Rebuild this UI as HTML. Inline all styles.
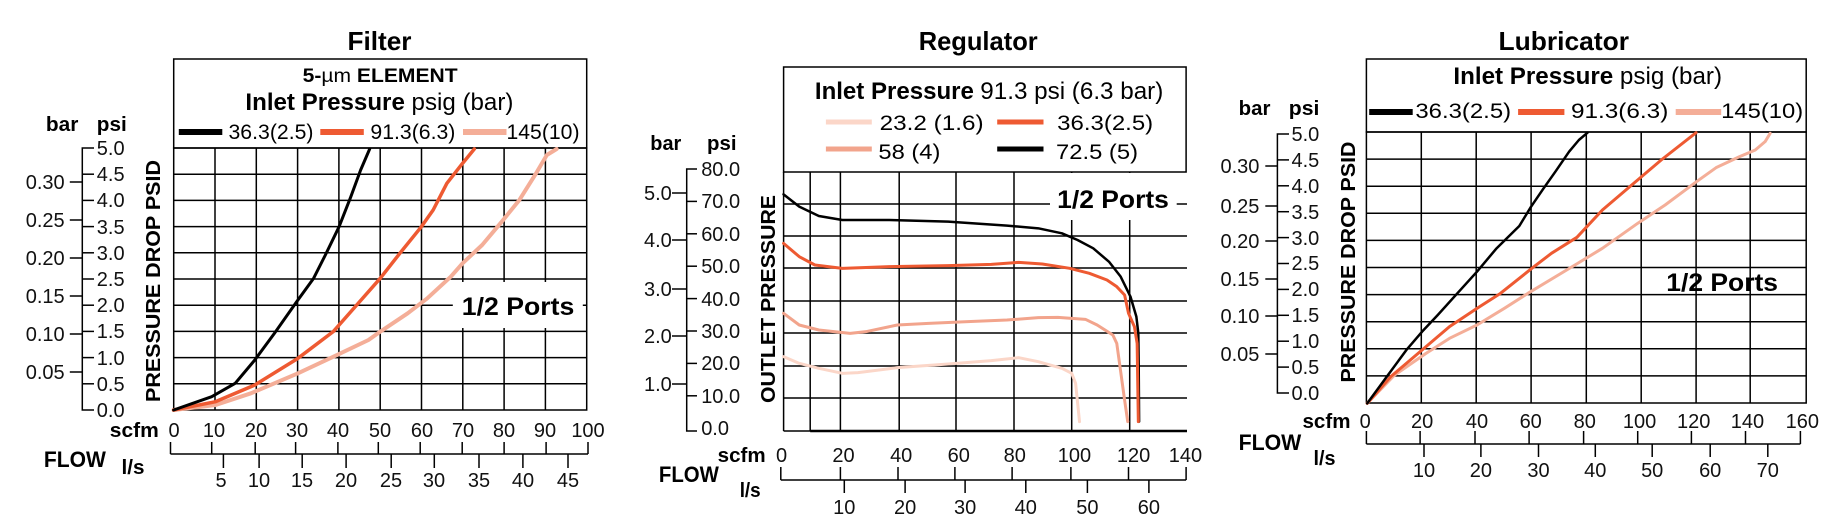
<!DOCTYPE html>
<html><head><meta charset="utf-8"><style>
html,body{margin:0;padding:0;background:#fff;}
svg{display:block;font-family:"Liberation Sans",Arial,sans-serif;}
.g{stroke:#000;stroke-width:1.5;fill:none;}
.t{font-size:20px;fill:#111;}
.b{font-weight:bold;fill:#000;}
.c{fill:none;stroke-linejoin:round;stroke-linecap:round;vector-effect:non-scaling-stroke;}
</style></head><body>
<svg width="1845" height="521" viewBox="0 0 1845 521" xmlns="http://www.w3.org/2000/svg">

<!-- ================= FILTER ================= -->
<text class="b" x="379.5" y="50" font-size="26" text-anchor="middle" textLength="64" lengthAdjust="spacingAndGlyphs">Filter</text>
<rect class="g" x="173.7" y="59" width="413" height="89"/>
<text class="b" x="302.6" y="82" font-size="19" textLength="155" lengthAdjust="spacingAndGlyphs">5-<tspan font-weight="normal">µm</tspan> ELEMENT</text>
<text x="245.4" y="110" font-size="24" textLength="268" lengthAdjust="spacingAndGlyphs"><tspan font-weight="bold">Inlet Pressure</tspan> psig (bar)</text>
<line x1="178.8" y1="132" x2="222.3" y2="132" stroke="#000" stroke-width="6"/>
<text x="228.5" y="139" font-size="21" textLength="85" lengthAdjust="spacingAndGlyphs">36.3(2.5)</text>
<line x1="320.3" y1="132" x2="363.8" y2="132" stroke="#ee5a32" stroke-width="6"/>
<text x="370.4" y="139" font-size="21" textLength="85" lengthAdjust="spacingAndGlyphs">91.3(6.3)</text>
<line x1="463" y1="132" x2="506.5" y2="132" stroke="#f4ae98" stroke-width="6"/>
<text x="506.5" y="139" font-size="21" textLength="73" lengthAdjust="spacingAndGlyphs">145(10)</text>
<rect class="g" x="173.7" y="148" width="413" height="262"/>
<g class="g">
<line x1="215" y1="148" x2="215" y2="410"/><line x1="256.3" y1="148" x2="256.3" y2="410"/><line x1="297.6" y1="148" x2="297.6" y2="410"/><line x1="338.9" y1="148" x2="338.9" y2="410"/><line x1="380.2" y1="148" x2="380.2" y2="410"/><line x1="421.5" y1="148" x2="421.5" y2="410"/><line x1="462.8" y1="148" x2="462.8" y2="410"/><line x1="504.1" y1="148" x2="504.1" y2="410"/><line x1="545.4" y1="148" x2="545.4" y2="410"/>
<line x1="173.7" y1="174.2" x2="586.7" y2="174.2"/><line x1="173.7" y1="200.4" x2="586.7" y2="200.4"/><line x1="173.7" y1="226.6" x2="586.7" y2="226.6"/><line x1="173.7" y1="252.8" x2="586.7" y2="252.8"/><line x1="173.7" y1="279" x2="586.7" y2="279"/><line x1="173.7" y1="305.2" x2="586.7" y2="305.2"/><line x1="173.7" y1="331.4" x2="586.7" y2="331.4"/><line x1="173.7" y1="357.6" x2="586.7" y2="357.6"/><line x1="173.7" y1="383.8" x2="586.7" y2="383.8"/>
</g>
<g transform="translate(0,0) scale(0.392,0.33333)">
<polyline class="c" stroke="#f4ae98" stroke-width="4" points="443,1230 550,1215 640,1180 760,1120 860,1065 940,1020 970,995 1040,940 1090,895 1150,830 1180,790 1230,735 1280,665 1325,600 1365,525 1395,465 1420,447"/>
<polyline class="c" stroke="#ee5a32" stroke-width="3.5" points="443,1230 550,1205 650,1155 760,1075 850,995 910,915 970,835 1020,760 1075,680 1105,630 1140,550 1180,490 1210,447"/>
<polyline class="c" stroke="#000" stroke-width="3" points="443,1230 540,1190 600,1150 650,1080 700,1000 757,905 800,835 830,765 865,680 895,590 920,510 943,447"/>
</g>
<rect x="452.8" y="282" width="130" height="46" fill="#fff"/>
<text class="b" x="461.8" y="315" font-size="25" textLength="112.5" lengthAdjust="spacingAndGlyphs">1/2 Ports</text>
<!-- axes -->
<g class="g">
<polyline points="94,148 82.3,148 82.3,410 94,410"/>
<line x1="82.3" y1="174.2" x2="94" y2="174.2"/><line x1="82.3" y1="200.4" x2="94" y2="200.4"/><line x1="82.3" y1="226.6" x2="94" y2="226.6"/><line x1="82.3" y1="252.8" x2="94" y2="252.8"/><line x1="82.3" y1="279" x2="94" y2="279"/><line x1="82.3" y1="305.2" x2="94" y2="305.2"/><line x1="82.3" y1="331.4" x2="94" y2="331.4"/><line x1="82.3" y1="357.6" x2="94" y2="357.6"/><line x1="82.3" y1="383.8" x2="94" y2="383.8"/>
<line x1="69.8" y1="182" x2="82.3" y2="182"/><line x1="69.8" y1="220" x2="82.3" y2="220"/><line x1="69.8" y1="258" x2="82.3" y2="258"/><line x1="69.8" y1="296" x2="82.3" y2="296"/><line x1="69.8" y1="334" x2="82.3" y2="334"/><line x1="69.8" y1="372" x2="82.3" y2="372"/>
</g>
<g class="t">
<text x="96.8" y="155">5.0</text><text x="96.8" y="181">4.5</text><text x="96.8" y="207">4.0</text><text x="96.8" y="234">3.5</text><text x="96.8" y="260">3.0</text><text x="96.8" y="286">2.5</text><text x="96.8" y="312">2.0</text><text x="96.8" y="338">1.5</text><text x="96.8" y="365">1.0</text><text x="96.8" y="391">0.5</text><text x="96.8" y="417">0.0</text>
</g>
<g class="t" text-anchor="end">
<text x="64.7" y="189">0.30</text><text x="64.7" y="227">0.25</text><text x="64.7" y="265">0.20</text><text x="64.7" y="303">0.15</text><text x="64.7" y="341">0.10</text><text x="64.7" y="379">0.05</text>
</g>
<text class="b" x="45.9" y="131" font-size="20" textLength="32.5" lengthAdjust="spacingAndGlyphs">bar</text>
<text class="b" x="96.8" y="131" font-size="20" textLength="30" lengthAdjust="spacingAndGlyphs">psi</text>
<text class="b" font-size="20" text-anchor="middle" transform="translate(160,281) rotate(-90)" textLength="242" lengthAdjust="spacingAndGlyphs">PRESSURE DROP PSID</text>
<g class="t" text-anchor="middle">
<text x="174" y="437">0</text><text x="214" y="437">10</text><text x="256" y="437">20</text><text x="297" y="437">30</text><text x="338" y="437">40</text><text x="380" y="437">50</text><text x="422" y="437">60</text><text x="463" y="437">70</text><text x="504" y="437">80</text><text x="545" y="437">90</text><text x="588" y="437">100</text>
</g>
<text class="b" x="109.8" y="437" font-size="20" textLength="49" lengthAdjust="spacingAndGlyphs">scfm</text>
<g class="g">
<line x1="170.5" y1="454" x2="588" y2="454"/>
<line x1="170.5" y1="442" x2="170.5" y2="454"/><line x1="211.7" y1="442" x2="211.7" y2="454"/><line x1="255.2" y1="442" x2="255.2" y2="454"/><line x1="295.6" y1="442" x2="295.6" y2="454"/><line x1="337.9" y1="442" x2="337.9" y2="454"/><line x1="378.3" y1="442" x2="378.3" y2="454"/><line x1="420.2" y1="442" x2="420.2" y2="454"/><line x1="462.2" y1="442" x2="462.2" y2="454"/><line x1="504.1" y1="442" x2="504.1" y2="454"/><line x1="546.1" y1="442" x2="546.1" y2="454"/><line x1="588" y1="442" x2="588" y2="454"/>
<line x1="223.4" y1="454" x2="223.4" y2="468"/><line x1="259.1" y1="454" x2="259.1" y2="468"/><line x1="302.2" y1="454" x2="302.2" y2="468"/><line x1="346.1" y1="454" x2="346.1" y2="468"/><line x1="391.2" y1="454" x2="391.2" y2="468"/><line x1="434.3" y1="454" x2="434.3" y2="468"/><line x1="479" y1="454" x2="479" y2="468"/><line x1="522.9" y1="454" x2="522.9" y2="468"/><line x1="568" y1="454" x2="568" y2="468"/>
</g>
<g class="t" text-anchor="middle">
<text x="221" y="487">5</text><text x="259" y="487">10</text><text x="302" y="487">15</text><text x="346" y="487">20</text><text x="391" y="487">25</text><text x="434" y="487">30</text><text x="479" y="487">35</text><text x="523" y="487">40</text><text x="568" y="487">45</text>
</g>
<text class="b" x="43.9" y="467" font-size="22" textLength="62" lengthAdjust="spacingAndGlyphs">FLOW</text>
<text class="b" x="121.5" y="474" font-size="20" textLength="23" lengthAdjust="spacingAndGlyphs">l/s</text>

<!-- ================= REGULATOR ================= -->
<text class="b" x="978.2" y="50" font-size="26" text-anchor="middle" textLength="119" lengthAdjust="spacingAndGlyphs">Regulator</text>
<rect class="g" x="783.6" y="67" width="402.5" height="105"/>
<text x="814.9" y="99" font-size="24"><tspan font-weight="bold" textLength="159" lengthAdjust="spacingAndGlyphs">Inlet Pressure</tspan><tspan x="980.3" textLength="183" lengthAdjust="spacingAndGlyphs">91.3 psi (6.3 bar)</tspan></text>
<line x1="825.9" y1="122" x2="871.8" y2="122" stroke="#fbd6c8" stroke-width="5"/>
<text x="879.6" y="130" font-size="21" textLength="104" lengthAdjust="spacingAndGlyphs">23.2 (1.6)</text>
<line x1="997.2" y1="122" x2="1043.5" y2="122" stroke="#ee5a32" stroke-width="5"/>
<text x="1057.2" y="130" font-size="21" textLength="96" lengthAdjust="spacingAndGlyphs">36.3(2.5)</text>
<line x1="825.9" y1="149" x2="871.8" y2="149" stroke="#f2a48c" stroke-width="5"/>
<text x="878.4" y="159" font-size="21" textLength="62" lengthAdjust="spacingAndGlyphs">58 (4)</text>
<line x1="997.2" y1="149" x2="1043.5" y2="149" stroke="#000" stroke-width="5"/>
<text x="1056" y="159" font-size="21" textLength="82" lengthAdjust="spacingAndGlyphs">72.5 (5)</text>
<g class="g">
<line x1="783.6" y1="172" x2="783.6" y2="431"/>
<line x1="810.2" y1="172" x2="810.2" y2="431"/><line x1="840.4" y1="172" x2="840.4" y2="431"/><line x1="899.2" y1="172" x2="899.2" y2="431"/><line x1="956" y1="172" x2="956" y2="431"/><line x1="1014" y1="172" x2="1014" y2="431"/><line x1="1071.7" y1="172" x2="1071.7" y2="431"/><line x1="1129.7" y1="172" x2="1129.7" y2="431"/>
<line x1="783.6" y1="204" x2="1187" y2="204"/><line x1="783.6" y1="236" x2="1187" y2="236"/><line x1="783.6" y1="268" x2="1187" y2="268"/><line x1="783.6" y1="301" x2="1187" y2="301"/><line x1="783.6" y1="333" x2="1187" y2="333"/><line x1="783.6" y1="366" x2="1187" y2="366"/><line x1="783.6" y1="398" x2="1187" y2="398"/>
<line x1="783.6" y1="431" x2="1187" y2="431"/>
</g>
<line x1="810.2" y1="431" x2="1187" y2="431" stroke="#000" stroke-width="2.5"/>
<rect x="1050" y="173" width="126.7" height="47" fill="#fff"/>
<text class="b" x="1057.2" y="208" font-size="25" textLength="111.7" lengthAdjust="spacingAndGlyphs">1/2 Ports</text>
<g transform="translate(615,0) scale(0.392,0.33333)">
<polyline class="c" stroke="#fbd6c8" stroke-width="3" points="430,1070 470,1090 520,1105 580,1120 620,1118 720,1103 850,1092 960,1082 1030,1073 1080,1085 1140,1105 1165,1120 1175,1150 1185,1265"/>
<polyline class="c" stroke="#f2a48c" stroke-width="3" points="430,940 470,975 520,990 600,1000 640,995 720,975 800,970 900,965 1000,960 1080,953 1130,952 1200,958 1230,975 1270,1005 1280,1030 1300,1200 1308,1265"/>
<polyline class="c" stroke="#000" stroke-width="2.5" points="430,583 470,620 520,648 580,660 700,660 850,665 1000,677 1080,685 1140,700 1180,720 1220,745 1260,785 1290,830 1315,890 1330,950 1335,1000 1336,1100 1337,1265"/>
<polyline class="c" stroke="#ee5a32" stroke-width="3" points="430,730 470,770 510,795 580,805 700,800 850,797 960,793 1030,787 1090,792 1160,805 1210,820 1255,840 1280,860 1300,885 1310,940 1325,980 1332,1030 1335,1265"/>
</g>
<g class="g">
<polyline points="697,169 686.7,169 686.7,431 697,431"/>
<line x1="686.7" y1="201.4" x2="697" y2="201.4"/><line x1="686.7" y1="233.8" x2="697" y2="233.8"/><line x1="686.7" y1="266.2" x2="697" y2="266.2"/><line x1="686.7" y1="298.6" x2="697" y2="298.6"/><line x1="686.7" y1="331" x2="697" y2="331"/><line x1="686.7" y1="363.4" x2="697" y2="363.4"/><line x1="686.7" y1="395.8" x2="697" y2="395.8"/>
<line x1="672" y1="193" x2="686.7" y2="193"/><line x1="672" y1="240" x2="686.7" y2="240"/><line x1="672" y1="289" x2="686.7" y2="289"/><line x1="672" y1="336" x2="686.7" y2="336"/><line x1="672" y1="384" x2="686.7" y2="384"/>
</g>
<g class="t">
<text x="701.2" y="176">80.0</text><text x="701.2" y="208">70.0</text><text x="701.2" y="241">60.0</text><text x="701.2" y="273">50.0</text><text x="701.2" y="306">40.0</text><text x="701.2" y="338">30.0</text><text x="701.2" y="370">20.0</text><text x="701.2" y="403">10.0</text><text x="701.2" y="435">0.0</text>
</g>
<g class="t" text-anchor="end">
<text x="671.8" y="200">5.0</text><text x="671.8" y="247">4.0</text><text x="671.8" y="296">3.0</text><text x="671.8" y="343">2.0</text><text x="671.8" y="391">1.0</text>
</g>
<text class="b" x="650.3" y="150" font-size="20" textLength="31" lengthAdjust="spacingAndGlyphs">bar</text>
<text class="b" x="707" y="150" font-size="20" textLength="29.5" lengthAdjust="spacingAndGlyphs">psi</text>
<text class="b" font-size="20" text-anchor="middle" transform="translate(775,299) rotate(-90)" textLength="208" lengthAdjust="spacingAndGlyphs">OUTLET PRESSURE</text>
<g class="t" text-anchor="middle">
<text x="781.6" y="462">0</text><text x="843.5" y="462">20</text><text x="901.2" y="462">40</text><text x="958.8" y="462">60</text><text x="1014.8" y="462">80</text><text x="1074.4" y="462">100</text><text x="1133.6" y="462">120</text><text x="1185.4" y="462">140</text>
</g>
<text class="b" x="717.7" y="462" font-size="20" textLength="48" lengthAdjust="spacingAndGlyphs">scfm</text>
<g class="g">
<line x1="780.8" y1="480" x2="1186.1" y2="480"/>
<line x1="780.8" y1="467" x2="780.8" y2="480"/><line x1="840.4" y1="467" x2="840.4" y2="480"/><line x1="898" y1="467" x2="898" y2="480"/><line x1="954.9" y1="467" x2="954.9" y2="480"/><line x1="1012.1" y1="467" x2="1012.1" y2="480"/><line x1="1070.9" y1="467" x2="1070.9" y2="480"/><line x1="1128.5" y1="467" x2="1128.5" y2="480"/><line x1="1186.1" y1="467" x2="1186.1" y2="480"/>
<line x1="844.3" y1="480" x2="844.3" y2="493"/><line x1="905.1" y1="480" x2="905.1" y2="493"/><line x1="965.1" y1="480" x2="965.1" y2="493"/><line x1="1025.8" y1="480" x2="1025.8" y2="493"/><line x1="1087.4" y1="480" x2="1087.4" y2="493"/><line x1="1148.9" y1="480" x2="1148.9" y2="493"/>
</g>
<g class="t" text-anchor="middle">
<text x="844.3" y="514">10</text><text x="905.1" y="514">20</text><text x="965.1" y="514">30</text><text x="1025.8" y="514">40</text><text x="1087.4" y="514">50</text><text x="1148.9" y="514">60</text>
</g>
<text class="b" x="658.9" y="482" font-size="22" textLength="60" lengthAdjust="spacingAndGlyphs">FLOW</text>
<text class="b" x="739.7" y="497" font-size="20" textLength="21" lengthAdjust="spacingAndGlyphs">l/s</text>

<!-- ================= LUBRICATOR ================= -->
<text class="b" x="1563.8" y="50" font-size="26" text-anchor="middle" textLength="130.5" lengthAdjust="spacingAndGlyphs">Lubricator</text>
<rect class="g" x="1366.4" y="59" width="439.8" height="73"/>
<text x="1453.4" y="84" font-size="24" textLength="268.6" lengthAdjust="spacingAndGlyphs"><tspan font-weight="bold">Inlet Pressure</tspan> psig (bar)</text>
<line x1="1369.2" y1="112" x2="1412.7" y2="112" stroke="#000" stroke-width="6"/>
<text x="1415.4" y="118" font-size="21" textLength="95.7" lengthAdjust="spacingAndGlyphs">36.3(2.5)</text>
<line x1="1518.1" y1="112" x2="1564.4" y2="112" stroke="#ee5a32" stroke-width="6"/>
<text x="1571" y="118" font-size="21" textLength="97.3" lengthAdjust="spacingAndGlyphs">91.3(6.3)</text>
<line x1="1675.7" y1="112" x2="1721.2" y2="112" stroke="#f4ae98" stroke-width="6"/>
<text x="1721.2" y="118" font-size="21" textLength="82" lengthAdjust="spacingAndGlyphs">145(10)</text>
<rect class="g" x="1366.4" y="132" width="439.8" height="271"/>
<g class="g">
<line x1="1421.3" y1="132" x2="1421.3" y2="403"/><line x1="1476.2" y1="132" x2="1476.2" y2="403"/><line x1="1531.1" y1="132" x2="1531.1" y2="403"/><line x1="1586.3" y1="132" x2="1586.3" y2="403"/><line x1="1641.2" y1="132" x2="1641.2" y2="403"/><line x1="1696.1" y1="132" x2="1696.1" y2="403"/><line x1="1750.2" y1="132" x2="1750.2" y2="403"/>
<line x1="1366.4" y1="159.1" x2="1806.2" y2="159.1"/><line x1="1366.4" y1="186.2" x2="1806.2" y2="186.2"/><line x1="1366.4" y1="213.3" x2="1806.2" y2="213.3"/><line x1="1366.4" y1="240.4" x2="1806.2" y2="240.4"/><line x1="1366.4" y1="267.5" x2="1806.2" y2="267.5"/><line x1="1366.4" y1="294.6" x2="1806.2" y2="294.6"/><line x1="1366.4" y1="321.7" x2="1806.2" y2="321.7"/><line x1="1366.4" y1="348.8" x2="1806.2" y2="348.8"/><line x1="1366.4" y1="375.9" x2="1806.2" y2="375.9"/>
</g>
<g transform="translate(1230,0) scale(0.392,0.33333)">
<polyline class="c" stroke="#f4ae98" stroke-width="3" points="350,1210 420,1125 500,1060 560,1015 630,975 700,925 760,880 880,795 950,745 1040,670 1110,615 1190,545 1240,503 1300,470 1340,450 1365,425 1378,400"/>
<polyline class="c" stroke="#ee5a32" stroke-width="3" points="350,1210 410,1130 490,1050 560,980 630,925 690,880 770,805 820,760 885,712 950,630 1020,560 1100,480 1189,398"/>
<polyline class="c" stroke="#000" stroke-width="2.5" points="350,1210 400,1130 450,1050 490,995 530,945 580,880 630,815 680,745 738,678 768,620 800,565 830,515 865,455 890,420 912,398"/>
</g>
<text class="b" x="1666.3" y="291" font-size="25" textLength="111.7" lengthAdjust="spacingAndGlyphs">1/2 Ports</text>
<g class="g">
<polyline points="1289,134 1277.4,134 1277.4,393 1289,393"/>
<line x1="1277.4" y1="159.9" x2="1289" y2="159.9"/><line x1="1277.4" y1="185.8" x2="1289" y2="185.8"/><line x1="1277.4" y1="211.7" x2="1289" y2="211.7"/><line x1="1277.4" y1="237.6" x2="1289" y2="237.6"/><line x1="1277.4" y1="263.5" x2="1289" y2="263.5"/><line x1="1277.4" y1="289.4" x2="1289" y2="289.4"/><line x1="1277.4" y1="315.3" x2="1289" y2="315.3"/><line x1="1277.4" y1="341.2" x2="1289" y2="341.2"/><line x1="1277.4" y1="367.1" x2="1289" y2="367.1"/>
<line x1="1265.3" y1="166" x2="1277.4" y2="166"/><line x1="1265.3" y1="206" x2="1277.4" y2="206"/><line x1="1265.3" y1="241" x2="1277.4" y2="241"/><line x1="1265.3" y1="279" x2="1277.4" y2="279"/><line x1="1265.3" y1="316" x2="1277.4" y2="316"/><line x1="1265.3" y1="354" x2="1277.4" y2="354"/>
</g>
<g class="t">
<text x="1291.5" y="141">5.0</text><text x="1291.5" y="167">4.5</text><text x="1291.5" y="193">4.0</text><text x="1291.5" y="219">3.5</text><text x="1291.5" y="245">3.0</text><text x="1291.5" y="270">2.5</text><text x="1291.5" y="296">2.0</text><text x="1291.5" y="322">1.5</text><text x="1291.5" y="348">1.0</text><text x="1291.5" y="374">0.5</text><text x="1291.5" y="400">0.0</text>
</g>
<g class="t" text-anchor="end">
<text x="1259.4" y="173">0.30</text><text x="1259.4" y="213">0.25</text><text x="1259.4" y="248">0.20</text><text x="1259.4" y="286">0.15</text><text x="1259.4" y="323">0.10</text><text x="1259.4" y="361">0.05</text>
</g>
<text class="b" x="1238.6" y="115" font-size="20" textLength="31.8" lengthAdjust="spacingAndGlyphs">bar</text>
<text class="b" x="1288.8" y="115" font-size="20" textLength="30.6" lengthAdjust="spacingAndGlyphs">psi</text>
<text class="b" font-size="20" text-anchor="middle" transform="translate(1355,262) rotate(-90)" textLength="241" lengthAdjust="spacingAndGlyphs">PRESSURE DROP PSID</text>
<g class="t" text-anchor="middle">
<text x="1365.2" y="428">0</text><text x="1422.1" y="428">20</text><text x="1477" y="428">40</text><text x="1530.7" y="428">60</text><text x="1584.8" y="428">80</text><text x="1639.6" y="428">100</text><text x="1693.7" y="428">120</text><text x="1747.4" y="428">140</text><text x="1802.3" y="428">160</text>
</g>
<text class="b" x="1302.5" y="428" font-size="20" textLength="48" lengthAdjust="spacingAndGlyphs">scfm</text>
<g class="g">
<line x1="1366.4" y1="444" x2="1800.4" y2="444"/>
<line x1="1366.4" y1="431" x2="1366.4" y2="444"/><line x1="1420.1" y1="431" x2="1420.1" y2="444"/><line x1="1475" y1="431" x2="1475" y2="444"/><line x1="1529.1" y1="431" x2="1529.1" y2="444"/><line x1="1583.6" y1="431" x2="1583.6" y2="444"/><line x1="1637.7" y1="431" x2="1637.7" y2="444"/><line x1="1691.4" y1="431" x2="1691.4" y2="444"/><line x1="1745.5" y1="431" x2="1745.5" y2="444"/><line x1="1800.4" y1="431" x2="1800.4" y2="444"/>
<line x1="1424" y1="444" x2="1424" y2="457"/><line x1="1480.9" y1="444" x2="1480.9" y2="457"/><line x1="1538.5" y1="444" x2="1538.5" y2="457"/><line x1="1595.3" y1="444" x2="1595.3" y2="457"/><line x1="1652.2" y1="444" x2="1652.2" y2="457"/><line x1="1710.2" y1="444" x2="1710.2" y2="457"/><line x1="1767.8" y1="444" x2="1767.8" y2="457"/>
</g>
<g class="t" text-anchor="middle">
<text x="1424" y="477">10</text><text x="1480.9" y="477">20</text><text x="1538.5" y="477">30</text><text x="1595.3" y="477">40</text><text x="1652.2" y="477">50</text><text x="1710.2" y="477">60</text><text x="1767.8" y="477">70</text>
</g>
<text class="b" x="1238.6" y="450" font-size="22" textLength="62.7" lengthAdjust="spacingAndGlyphs">FLOW</text>
<text class="b" x="1313.5" y="465" font-size="20" textLength="22" lengthAdjust="spacingAndGlyphs">l/s</text>
</svg>
</body></html>
